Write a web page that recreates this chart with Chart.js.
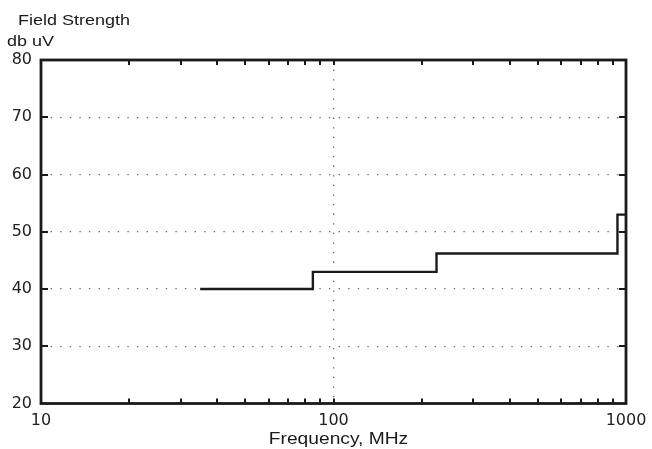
<!DOCTYPE html>
<html>
<head>
<meta charset="utf-8">
<script src="https://cdn.jsdelivr.net/npm/chart.js@4"></script>
<style>
  html, body { margin: 0; padding: 0; background: #fff; }
  #wrap { width: 652px; height: 449px; position: relative; }
</style>
</head>
<body>
<div id="wrap"><canvas id="limitChart"></canvas></div>
<script>
// limit line (step starts at each frequency)
const freqMHz = [35, 85, 225, 935, 1000];
const limitDb = [40, 43, 46.2, 53, 53];

// axis labels / tick positions
const xLabelVals = [10, 100, 1000];
const xMinorVals = [20, 30, 40, 50, 60, 70, 80, 90, 100, 200, 300, 400, 500, 600, 700, 800, 900];
const yTickVals = [30, 40, 50, 60, 70];

const FONT = "'Liberation Sans', Arial, Helvetica, sans-serif";
const TICK_FONT = "'DejaVu Sans', 'Liberation Sans', Arial, sans-serif";
const INK = '#1a1a1a';

// frame, inside ticks and stretched titles
const framePlugin = {
    id: 'frame',
    afterDraw(chart) {
        const { ctx, chartArea: a, scales } = chart;
        const xs = scales.x, ys = scales.y;
        ctx.save();
        ctx.strokeStyle = INK;

        // little ticks pointing inside
        ctx.lineWidth = 2;
        ctx.beginPath();
        xMinorVals.forEach(v => {
            const px = Math.round(xs.getPixelForValue(v));
            ctx.moveTo(px, a.top); ctx.lineTo(px, a.top + 5);
            ctx.moveTo(px, a.bottom); ctx.lineTo(px, a.bottom - 5);
        });
        yTickVals.forEach(v => {
            const py = Math.round(ys.getPixelForValue(v));
            ctx.moveTo(a.left, py); ctx.lineTo(a.left + 7, py);
            ctx.moveTo(a.right, py); ctx.lineTo(a.right - 7, py);
        });
        ctx.stroke();

        // box round the plot
        ctx.lineWidth = 2.8;
        ctx.strokeRect(a.left, a.top, a.right - a.left, a.bottom - a.top);

        // titles (the original font is a bit wide)
        ctx.fillStyle = INK;
        ctx.textBaseline = 'alphabetic';
        const txt = (s, x, y, size, align) => {
            ctx.save();
            ctx.translate(x, y);
            ctx.scale(1.2, 1);
            ctx.font = size + 'px ' + FONT;
            ctx.textAlign = align;
            ctx.fillText(s, 0, 0);
            ctx.restore();
        };
        txt('Field Strength', 18, 25, 15, 'left');
        txt('db uV', 7, 46, 15, 'left');
        txt('Frequency, MHz', (a.left + a.right) / 2 + 5, 444, 16, 'center');
        ctx.restore();
    }
};

const points = freqMHz.map((f, i) => ({ x: f, y: limitDb[i] }));

new Chart(document.getElementById('limitChart'), {
    type: 'line',
    data: {
        datasets: [{
            label: 'Limit',
            data: points,
            stepped: true,
            borderColor: INK,
            borderWidth: 2.4,
            pointRadius: 0,
            fill: false
        }]
    },
    options: {
        responsive: true,
        maintainAspectRatio: false,
        animation: false,
        events: [],
        layout: { padding: { left: 0, top: 60, right: 26, bottom: 0 } },
        plugins: {
            legend: { display: false },
            tooltip: { enabled: false }
        },
        scales: {
            x: {
                type: 'logarithmic',
                min: 10,
                max: 1000,
                afterBuildTicks: s => { s.ticks = xLabelVals.map(v => ({ value: v })); },
                afterFit: s => { s.height = 45.5; s.paddingLeft = 0; s.paddingRight = 0; },
                ticks: {
                    autoSkip: false,
                    maxRotation: 0,
                    padding: 8,
                    color: '#222',
                    font: { family: TICK_FONT, size: 16 },
                    callback: v => String(v)
                },
                grid: {
                    drawTicks: false,
                    lineWidth: 1.3,
                    color: c => (c.tick && c.tick.value === 100) ? '#666' : 'rgba(0,0,0,0)'
                },
                border: { display: false, dash: [1.3, 8.3] }
            },
            y: {
                min: 20,
                max: 80,
                afterFit: s => { s.width = 41; },
                ticks: {
                    stepSize: 10,
                    padding: 9,
                    color: '#222',
                    font: { family: TICK_FONT, size: 16 }
                },
                grid: {
                    drawTicks: false,
                    lineWidth: 1.3,
                    color: c => (c.tick && yTickVals.includes(c.tick.value)) ? '#666' : 'rgba(0,0,0,0)'
                },
                border: { display: false, dash: [1.3, 8.3] }
            }
        }
    },
    plugins: [framePlugin]
});
</script>
</body>
</html>
